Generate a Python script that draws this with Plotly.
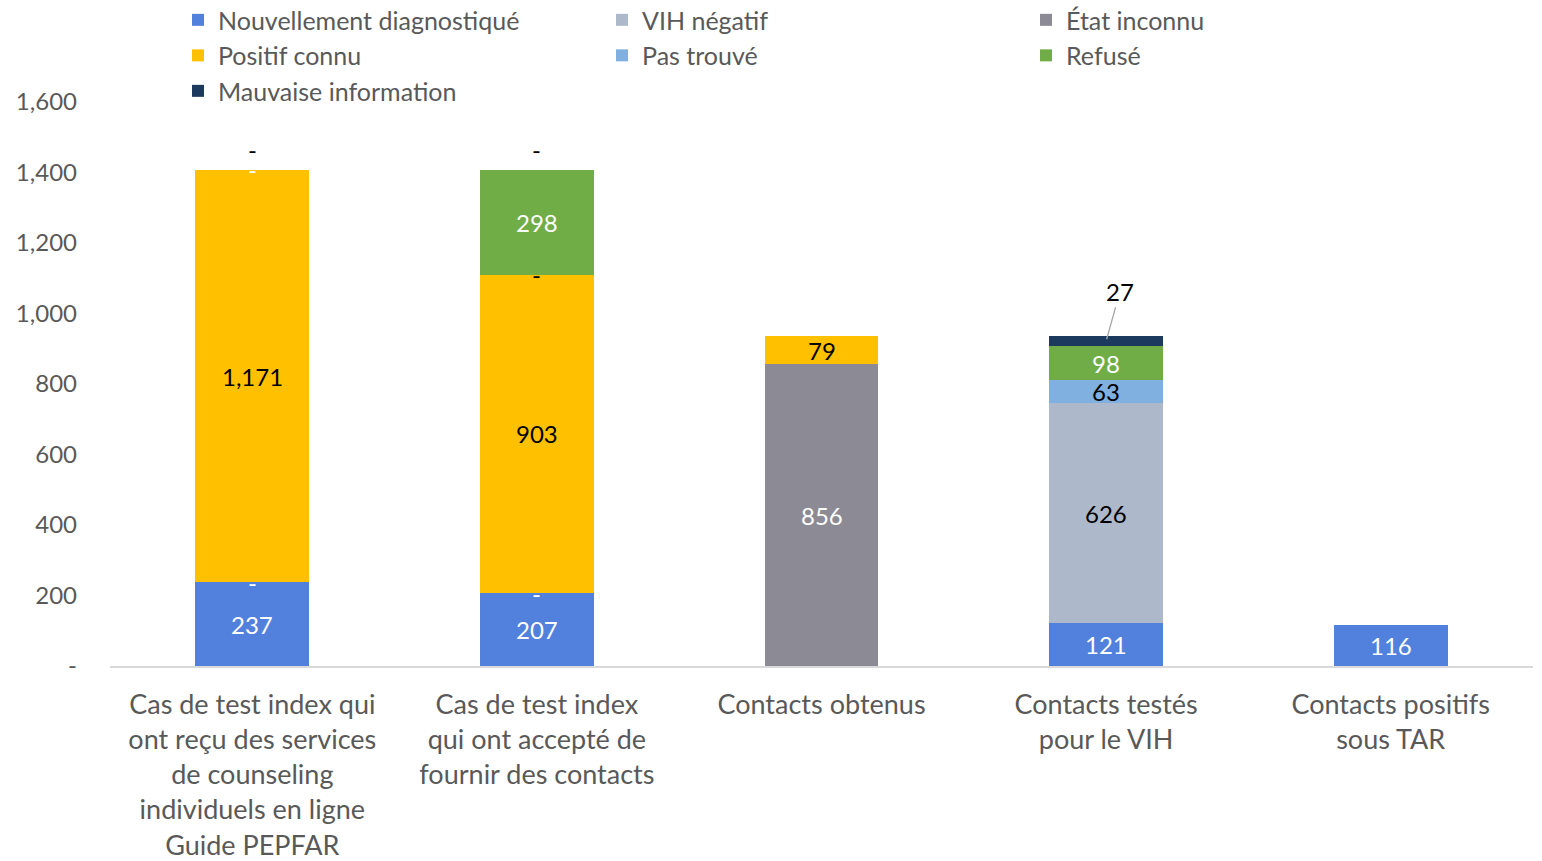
import plotly.graph_objects as go

categories = [
    "Cas de test index qui<br>ont reçu des services<br>de counseling<br>individuels en ligne<br>Guide PEPFAR",
    "Cas de test index<br>qui ont accepté de<br>fournir des contacts",
    "Contacts obtenus",
    "Contacts testés<br>pour le VIH",
    "Contacts positifs<br>sous TAR",
]

series_names = ["Nouvellement diagnostiqué", "VIH négatif", "État inconnu",
                "Positif connu", "Pas trouvé", "Refusé", "Mauvaise information"]

nouvellement = [237, 207, None, 121, 116]
vih_negatif = [None, None, None, 626, None]
etat_inconnu = [0, 0, 856, None, None]
positif_connu = [1171, 903, 79, None, None]
pas_trouve = [None, 0, None, 63, None]
refuse = [0, 298, None, 98, None]
mauvaise = [0, 0, None, 27, None]

y_ticks = [0, 200, 400, 600, 800, 1000, 1200, 1400, 1600]
y_tick_labels = ["-", "200", "400", "600", "800", "1,000", "1,200", "1,400", "1,600"]

series_values = [nouvellement, vih_negatif, etat_inconnu, positif_connu,
                 pas_trouve, refuse, mauvaise]
colors = ["#5181DC", "#ADB9CA", "#8B8A95", "#FFC000", "#7FB0E0", "#70AD47", "#1B3A5D"]
label_colors = ["white", "black", "white", "black", "black", "white", "black"]

FONT = "Lato, 'Open Sans', sans-serif"
LABEL_SIZE = 24

fig = go.Figure()
for name, vals, col in zip(series_names, series_values, colors):
    fig.add_trace(go.Bar(
        name=name, x=categories, y=[v if v is not None else 0 for v in vals],
        marker=dict(color=col, line=dict(width=0)),
        hoverinfo="skip",
    ))

annotations = []
base = [0] * len(categories)
for i, vals in enumerate(series_values):
    last = i == len(series_values) - 1
    for j, v in enumerate(vals):
        if v is None:
            continue
        text = "-" if v == 0 else f"{v:,}"
        if last:
            if v == 0:
                annotations.append(dict(x=categories[j], y=base[j] + v, text=text,
                                        showarrow=False, yanchor="bottom", yshift=4,
                                        font=dict(color="black", size=LABEL_SIZE, family=FONT)))
            else:
                annotations.append(dict(x=categories[j], y=base[j] + v / 2, text=text,
                                        showarrow=True, arrowhead=0, arrowwidth=1.3,
                                        arrowcolor="#A6A6A6", ax=14, ay=-50, standoff=2,
                                        font=dict(color="black", size=LABEL_SIZE, family=FONT)))
        else:
            annotations.append(dict(x=categories[j], y=base[j] + v / 2, text=text,
                                    showarrow=False,
                                    font=dict(color=label_colors[i], size=LABEL_SIZE, family=FONT)))
        base[j] += v

fig.update_layout(
    barmode="stack",
    bargap=0.6,
    width=1542, height=861,
    margin=dict(l=110, r=9, t=102, b=195, autoexpand=False),
    paper_bgcolor="white", plot_bgcolor="white",
    font=dict(family=FONT, color="#595959", size=24),
    legend=dict(orientation="h", xref="paper", yref="paper",
                x=0.0478, y=1.186, xanchor="left", yanchor="top",
                entrywidth=379, entrywidthmode="pixels",
                font=dict(size=25, color="#595959", family=FONT),
                traceorder="normal", itemclick=False, tracegroupgap=0),
    annotations=annotations,
    showlegend=True,
)
fig.update_xaxes(showline=True, linecolor="#D9D9D9", linewidth=1.5, ticks="",
                 tickfont=dict(size=27, color="#595959", family=FONT), showgrid=False,
                 automargin=False, ticklabelstandoff=14)
fig.update_yaxes(range=[0, 1600], tickvals=y_ticks, ticktext=y_tick_labels,
                 showgrid=False, zeroline=False, showline=False, ticks="",
                 tickfont=dict(size=24, color="#595959", family=FONT), ticklabelstandoff=32,
                 automargin=False)

fig.write_html("out.html", config={"displayModeBar": False},
               post_script="document.body.style.margin='0';")
